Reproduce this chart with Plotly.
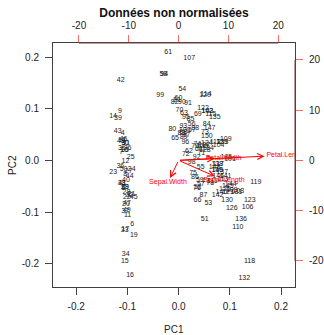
import numpy as np
import plotly.graph_objects as go

# Iris measurements (R datasets::iris), rows 1..150
sepal_length = [5.1,4.9,4.7,4.6,5.0,5.4,4.6,5.0,4.4,4.9,5.4,4.8,4.8,4.3,5.8,5.7,5.4,5.1,5.7,5.1,
                5.4,5.1,4.6,5.1,4.8,5.0,5.0,5.2,5.2,4.7,4.8,5.4,5.2,5.5,4.9,5.0,5.5,4.9,4.4,5.1,
                5.0,4.5,4.4,5.0,5.1,4.8,5.1,4.6,5.3,5.0,
                7.0,6.4,6.9,5.5,6.5,5.7,6.3,4.9,6.6,5.2,5.0,5.9,6.0,6.1,5.6,6.7,5.6,5.8,6.2,5.6,
                5.9,6.1,6.3,6.1,6.4,6.6,6.8,6.7,6.0,5.7,5.5,5.5,5.8,6.0,5.4,6.0,6.7,6.3,5.6,5.5,
                5.5,6.1,5.8,5.0,5.6,5.7,5.7,6.2,5.1,5.7,
                6.3,5.8,7.1,6.3,6.5,7.6,4.9,7.3,6.7,7.2,6.5,6.4,6.8,5.7,5.8,6.4,6.5,7.7,7.7,6.0,
                6.9,5.6,7.7,6.3,6.7,7.2,6.2,6.1,6.4,7.2,7.4,7.9,6.4,6.3,6.1,7.7,6.3,6.4,6.0,6.9,
                6.7,6.9,5.8,6.8,6.7,6.7,6.3,6.5,6.2,5.9]
sepal_width = [3.5,3.0,3.2,3.1,3.6,3.9,3.4,3.4,2.9,3.1,3.7,3.4,3.0,3.0,4.0,4.4,3.9,3.5,3.8,3.8,
               3.4,3.7,3.6,3.3,3.4,3.0,3.4,3.5,3.4,3.2,3.1,3.4,4.1,4.2,3.1,3.2,3.5,3.6,3.0,3.4,
               3.5,2.3,3.2,3.5,3.8,3.0,3.8,3.2,3.7,3.3,
               3.2,3.2,3.1,2.3,2.8,2.8,3.3,2.4,2.9,2.7,2.0,3.0,2.2,2.9,2.9,3.1,3.0,2.7,2.2,2.5,
               3.2,2.8,2.5,2.8,2.9,3.0,2.8,3.0,2.9,2.6,2.4,2.4,2.7,2.7,3.0,3.4,3.1,2.3,3.0,2.5,
               2.6,3.0,2.6,2.3,2.7,3.0,2.9,2.9,2.5,2.8,
               3.3,2.7,3.0,2.9,3.0,3.0,2.5,2.9,2.5,3.6,3.2,2.7,3.0,2.5,2.8,3.2,3.0,3.8,2.6,2.2,
               3.2,2.8,2.8,2.7,3.3,3.2,2.8,3.0,2.8,3.0,2.8,3.8,2.8,2.8,2.6,3.0,3.4,3.1,3.0,3.1,
               3.1,3.1,2.7,3.2,3.3,3.0,2.5,3.0,3.4,3.0]
petal_length = [1.4,1.4,1.3,1.5,1.4,1.7,1.4,1.5,1.4,1.5,1.5,1.6,1.4,1.1,1.2,1.5,1.3,1.4,1.7,1.5,
                1.7,1.5,1.0,1.7,1.9,1.6,1.6,1.5,1.4,1.6,1.6,1.5,1.5,1.4,1.5,1.2,1.3,1.4,1.3,1.5,
                1.3,1.3,1.3,1.6,1.9,1.4,1.6,1.4,1.5,1.4,
                4.7,4.5,4.9,4.0,4.6,4.5,4.7,3.3,4.6,3.9,3.5,4.2,4.0,4.7,3.6,4.4,4.5,4.1,4.5,3.9,
                4.8,4.0,4.9,4.7,4.3,4.4,4.8,5.0,4.5,3.5,3.8,3.7,3.9,5.1,4.5,4.5,4.7,4.4,4.1,4.0,
                4.4,4.6,4.0,3.3,4.2,4.2,4.2,4.3,3.0,4.1,
                6.0,5.1,5.9,5.6,5.8,6.6,4.5,6.3,5.8,6.1,5.1,5.3,5.5,5.0,5.1,5.3,5.5,6.7,6.9,5.0,
                5.7,4.9,6.7,4.9,5.7,6.0,4.8,4.9,5.6,5.8,6.1,6.4,5.6,5.1,5.6,6.1,5.6,5.5,4.8,5.4,
                5.6,5.1,5.1,5.9,5.7,5.2,5.0,5.2,5.4,5.1]
petal_width = [0.2,0.2,0.2,0.2,0.2,0.4,0.3,0.2,0.2,0.1,0.2,0.2,0.1,0.1,0.2,0.4,0.4,0.3,0.3,0.3,
               0.2,0.4,0.2,0.5,0.2,0.2,0.4,0.2,0.2,0.2,0.2,0.4,0.1,0.2,0.2,0.2,0.2,0.1,0.2,0.2,
               0.3,0.3,0.2,0.6,0.4,0.3,0.2,0.2,0.2,0.2,
               1.4,1.5,1.5,1.3,1.5,1.3,1.6,1.0,1.3,1.4,1.0,1.5,1.0,1.4,1.3,1.4,1.5,1.0,1.5,1.1,
               1.8,1.3,1.5,1.2,1.3,1.4,1.4,1.7,1.5,1.0,1.1,1.0,1.2,1.6,1.5,1.6,1.5,1.3,1.3,1.3,
               1.2,1.4,1.2,1.0,1.3,1.2,1.3,1.3,1.1,1.3,
               2.5,1.9,2.1,1.8,2.2,2.1,1.7,1.8,1.8,2.5,2.0,1.9,2.1,2.0,2.4,2.3,1.8,2.2,2.3,1.5,
               2.3,2.0,2.0,1.8,2.1,1.8,1.8,1.8,2.1,1.6,1.9,2.0,2.2,1.5,1.4,2.3,2.4,1.8,1.8,2.1,
               2.4,2.3,1.9,2.3,2.5,2.3,1.9,2.0,2.3,1.8]
var_names = ["Sepal.Length", "Sepal.Width", "Petal.Length", "Petal.Width"]
obs_labels = [str(i) for i in range(1, len(sepal_length) + 1)]
bottom_ticks = [-0.2, -0.1, 0.0, 0.1, 0.2]
bottom_tick_text = ["-0.2", "-0.1", "0.0", "0.1", "0.2"]
top_ticks = [-20, -10, 0, 10, 20]
top_tick_text = ["-20", "-10", "0", "10", "20"]

# PCA (non-normalised, as R prcomp) and biplot scaling (scale = 1)
X = np.column_stack([sepal_length, sepal_width, petal_length, petal_width])
n = X.shape[0]
Xc = X - X.mean(axis=0)
U, S, Vt = np.linalg.svd(Xc, full_matrices=False)
rot = Vt.T.copy()
if rot[2, 0] < 0:
    rot[:, 0] *= -1
if rot[1, 1] > 0:
    rot[:, 1] *= -1
scores = Xc @ rot
sdev = S / np.sqrt(n - 1)
lam = sdev[:2] * np.sqrt(n)
xs = scores[:, :2] / lam
ys = rot[:, :2] * lam

def urange(v):
    return np.array([-abs(v.min()), abs(v.max())])

rx1, rx2 = urange(xs[:, 0]), urange(xs[:, 1])
ry1, ry2 = urange(ys[:, 0]), urange(ys[:, 1])
lim = np.array([min(rx1[0], rx2[0]), max(rx1[1], rx2[1])])
ratio = max(np.max(ry1 / lim), np.max(ry2 / lim))
pad = 0.04 * (lim[1] - lim[0])
rng = [lim[0] - pad, lim[1] + pad]
rng2 = [rng[0] * ratio, rng[1] * ratio]

RED = "#FF0000"
TICKRED = "#FF6A6A"
AXRED = "#7A3A3A"
FONT = "Liberation Sans, Arial, Helvetica, sans-serif"
TXT = "#222222"

fig = go.Figure()
fig.add_trace(go.Scatter(
    x=xs[:, 0], y=xs[:, 1], mode="text", text=obs_labels,
    textfont=dict(family=FONT, size=7, color="#1a1a1a"),
    textposition="middle center", hoverinfo="text", showlegend=False,
    xaxis="x", yaxis="y"))
fig.add_trace(go.Scatter(
    x=ys[:, 0], y=ys[:, 1], mode="text", text=var_names,
    textfont=dict(family=FONT, size=7, color=RED),
    textposition="middle center", showlegend=False,
    xaxis="x2", yaxis="y2"))

axis_common = dict(showgrid=False, zeroline=False, ticks="outside", ticklen=7,
                   automargin=False,
                   tickfont=dict(family=FONT, size=10, color=TXT))

fig.update_layout(
    template="none",
    width=324, height=335,
    margin=dict(l=53, r=29, t=43, b=48, autoexpand=False),
    paper_bgcolor="white", plot_bgcolor="white",
    font=dict(family=FONT, color=TXT),
    showlegend=False,
    title=dict(text="<b>Données non normalisées</b>", x=0.537, xanchor="center",
               y=1 - 13 / 335, yanchor="middle", yref="container",
               font=dict(family=FONT, size=12, color="#111111")),
    xaxis=dict(range=rng, tickvals=bottom_ticks, ticktext=bottom_tick_text,
               showline=True, mirror=True, linecolor="#404040", linewidth=1,
               tickcolor="#444444", ticklabelstandoff=3, **axis_common),
    yaxis=dict(range=rng, tickvals=bottom_ticks, ticktext=bottom_tick_text,
               showline=True, mirror=True, linecolor="#404040", linewidth=1,
               tickcolor="#444444", ticklabelstandoff=4, **axis_common),
    xaxis2=dict(range=rng2, overlaying="x", side="top", anchor="y",
                tickvals=top_ticks, ticktext=top_tick_text,
                showline=False, tickcolor=TICKRED, ticklabelstandoff=2, **axis_common),
    yaxis2=dict(range=rng2, overlaying="y", side="right", anchor="x",
                tickvals=top_ticks, ticktext=top_tick_text,
                showline=False, tickcolor=TICKRED, ticklabelstandoff=4, **axis_common),
    shapes=[
        dict(type="line", xref="x2", yref="paper", x0=-20, x1=20, y0=1, y1=1,
             line=dict(color=AXRED, width=1)),
        dict(type="line", xref="paper", yref="y2", x0=1, x1=1, y0=-20, y1=20,
             line=dict(color=AXRED, width=1)),
    ],
)

# loading arrows (drawn to 80% of the loading, as R's biplot does)
for i in range(len(var_names)):
    fig.add_annotation(
        x=0.8 * ys[i, 0], y=0.8 * ys[i, 1], xref="x2", yref="y2",
        ax=0, ay=0, axref="x2", ayref="y2", text="",
        showarrow=True, arrowhead=5, arrowsize=1.2, arrowwidth=1,
        arrowcolor=RED)

fig.add_annotation(text="PC1", xref="paper", yref="paper", x=0.5, y=0, yshift=-42,
                   showarrow=False, xanchor="center", yanchor="middle",
                   font=dict(family=FONT, size=10, color=TXT))
fig.add_annotation(text="PC2", xref="paper", yref="paper", x=0, y=0.5, xshift=-41,
                   showarrow=False, xanchor="center", yanchor="middle", textangle=-90,
                   font=dict(family=FONT, size=10, color=TXT))

fig.write_html("out.html")
